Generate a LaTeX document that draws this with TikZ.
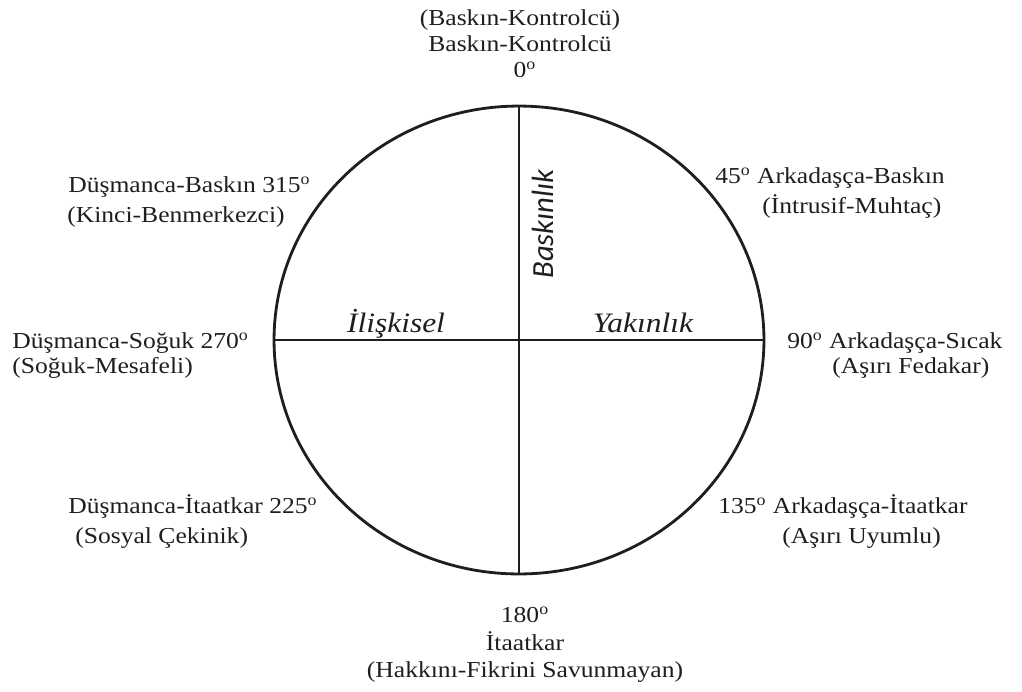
\documentclass[tikz,border=0pt]{standalone}
\usepackage{fontspec}
\setmainfont{Liberation Serif}[FakeStretch=1.12]
\newfontfamily\axisfont{Carlito}
\usepackage{tikz}
\usetikzlibrary{shapes.geometric}
\definecolor{ink}{RGB}{30, 30, 30}
\newcommand{\dgr}{\textsuperscript{o}}

\begin{document}
\begin{tikzpicture}[x=0.02cm, y=-0.02cm,
        lbl/.style  = {inner sep=0pt, font=\fontsize{13}{15}\selectfont, text=ink},
        sect/.style = {inner sep=0pt, font=\fontsize{16}{19}\selectfont\itshape, text=ink},
        rim/.style  = {draw=ink, line width=1.6pt}]
            \useasboundingbox                                          (0, 0) rectangle (1022, 691);
            \node[rim, ellipse, minimum width=9.8cm, minimum height=9.36cm, inner sep=0pt, outer sep=0pt]
                 (circ) at (519, 340) {};
            \draw[rim] (circ.north) -- (circ.south);
            \draw[rim] (circ.west)  -- (circ.east);
            % quarter names
            \node[sect, anchor=base]                     (rel)  at (396, 332) {İlişkisel};
            \node[sect, anchor=base]                     (yak)  at (643, 332) {Yakınlık};
            \node[sect, anchor=base, rotate=90, font=\fontsize{17.5}{20}\selectfont\axisfont\itshape]
                                                         (bas)  at (553, 224) {Baskınlık};
            % 0
            \node[lbl, anchor=base]                      (t0a)  at (520,  25) {(Baskın-Kontrolcü)};
            \node[lbl, anchor=base]                      (t0b)  at (520,  51) {Baskın-Kontrolcü};
            \node[lbl, anchor=base]                      (t0c)  at (525,  77) {0\dgr};
            % 315 and 45
            \node[lbl, anchor=base west]                 (t315a) at ( 68, 192) {Düşmanca-Baskın 315\dgr};
            \node[lbl, anchor=base west]                 (t315b) at ( 67, 222) {(Kinci-Benmerkezci)};
            \node[lbl, anchor=base west]                 (t45a)  at (715, 183) {45\dgr{} Arkadaşça-Baskın};
            \node[lbl, anchor=base west]                 (t45b)  at (762, 213) {(İntrusif-Muhtaç)};
            % 270 and 90
            \node[lbl, anchor=base west]                 (t270a) at ( 12, 348) {Düşmanca-Soğuk 270\dgr};
            \node[lbl, anchor=base west]                 (t270b) at ( 12, 373) {(Soğuk-Mesafeli)};
            \node[lbl, anchor=base west]                 (t90a)  at (787, 348) {90\dgr{} Arkadaşça-Sıcak};
            \node[lbl, anchor=base west]                 (t90b)  at (832, 373) {(Aşırı Fedakar)};
            % 225 and 135
            \node[lbl, anchor=base west]                 (t225a) at ( 68, 513) {Düşmanca-İtaatkar 225\dgr};
            \node[lbl, anchor=base west]                 (t225b) at ( 75, 543) {(Sosyal Çekinik)};
            \node[lbl, anchor=base west]                 (t135a) at (718, 513) {135\dgr{} Arkadaşça-İtaatkar};
            \node[lbl, anchor=base west]                 (t135b) at (782, 543) {(Aşırı Uyumlu)};
            % 180
            \node[lbl, anchor=base]                      (t180a) at (525, 622) {180\dgr};
            \node[lbl, anchor=base]                      (t180b) at (525, 650) {İtaatkar};
            \node[lbl, anchor=base]                      (t180c) at (525, 677) {(Hakkını-Fikrini Savunmayan)};
        \end{tikzpicture}
\end{document}
